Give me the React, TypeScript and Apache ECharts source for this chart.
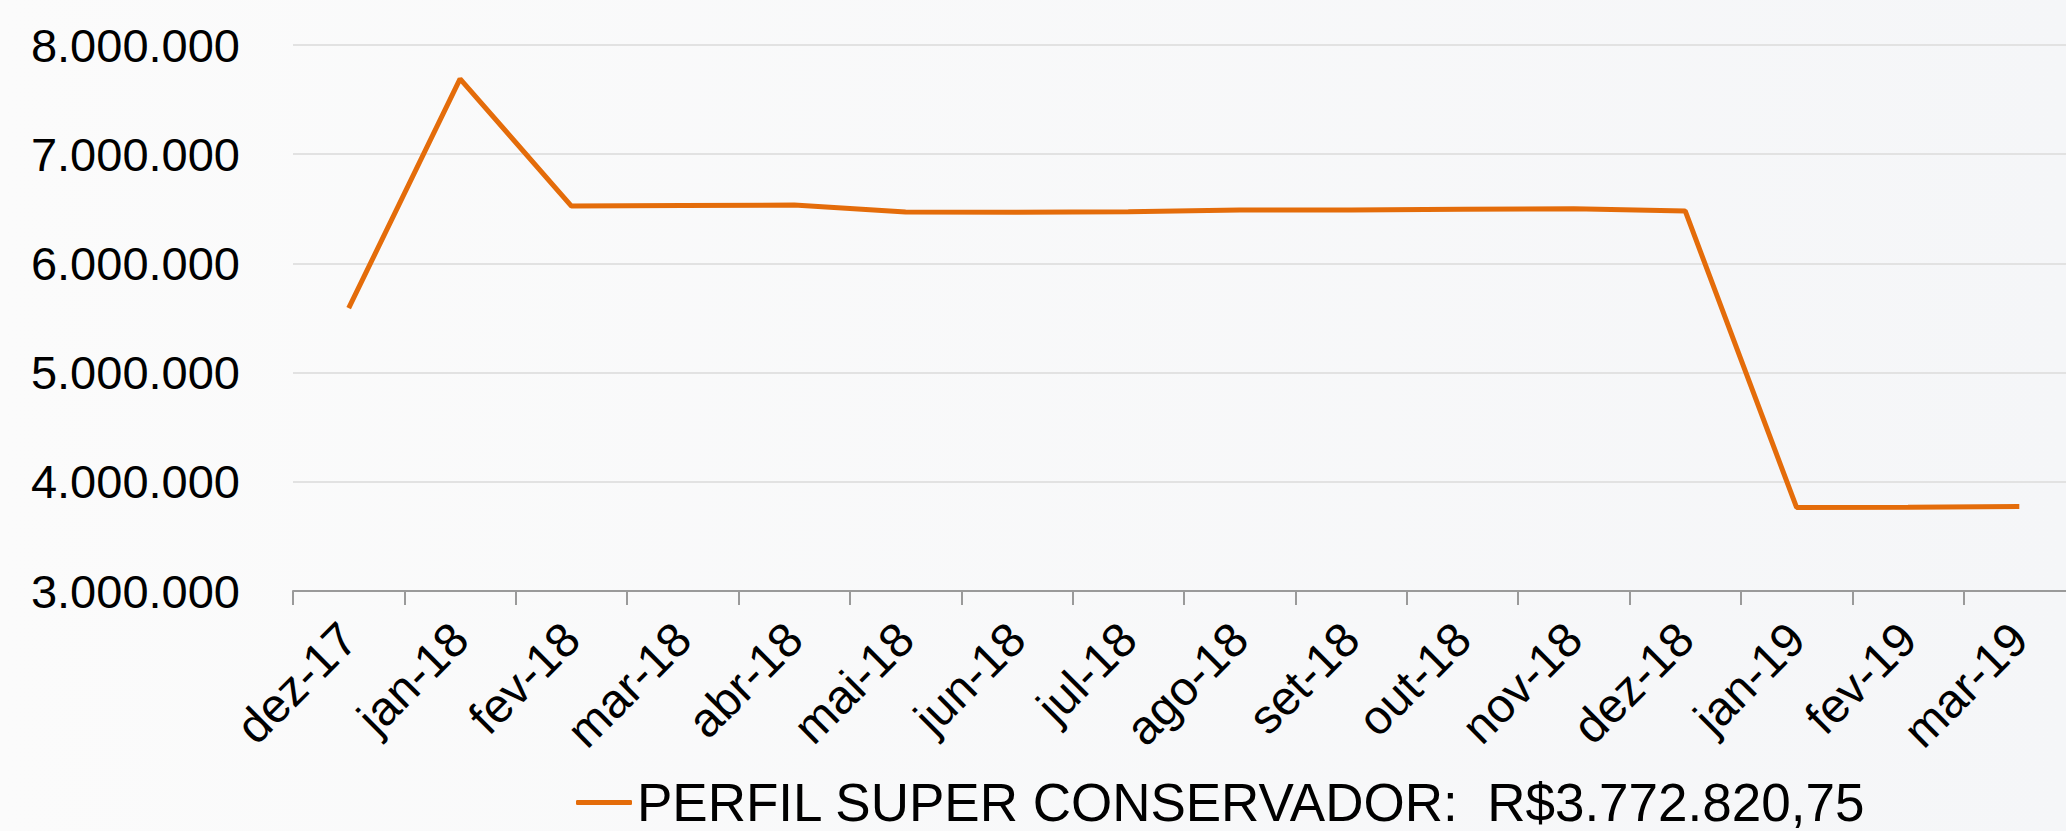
import React, { useEffect, useRef } from "react";
import * as echarts from "echarts";

const categories = [
  "dez-17", "jan-18", "fev-18", "mar-18", "abr-18", "mai-18", "jun-18", "jul-18",
  "ago-18", "set-18", "out-18", "nov-18", "dez-18", "jan-19", "fev-19", "mar-19",
];
const seriesName = "PERFIL SUPER CONSERVADOR:  R$3.772.820,75";
const values = [
  5590000, 7690000, 6525000, 6530000, 6535000, 6470000, 6468000, 6474000,
  6490000, 6490000, 6495000, 6500000, 6480000, 3765000, 3768000, 3772821,
];
const yMin = 3000000;
const yMax = 8000000;
const yInterval = 1000000;

const fmt = (v: number) => String(Math.round(v)).replace(/\B(?=(\d{3})+(?!\d))/g, ".");

export default function App() {
  const ref = useRef<HTMLDivElement>(null);
  useEffect(() => {
    if (!ref.current) return;
    const chart = echarts.init(ref.current, null, { renderer: "svg" });
    const font = "'Liberation Sans', Arial, sans-serif";
    chart.setOption({
      animation: false,
      backgroundColor: new echarts.graphic.LinearGradient(0, 0, 1, 0, [
        { offset: 0, color: "#FBFBFB" },
        { offset: 1, color: "#F5F6F8" },
      ]),
      grid: {
        left: 293,
        top: 45,
        width: 1782,
        height: 546,
        containLabel: false,
        outerBoundsMode: "none",
      },
      legend: {
        left: 576,
        top: 776,
        padding: 0,
        icon: "roundRect",
        itemWidth: 56,
        itemHeight: 5,
        textStyle: { fontFamily: font, fontSize: 53, lineHeight: 50, color: "#000" },
        data: [seriesName],
      },
      xAxis: {
        type: "category",
        data: categories,
        boundaryGap: true,
        axisLine: { lineStyle: { color: "#9A9A9A", width: 2 } },
        axisTick: { show: true, length: 14, lineStyle: { color: "#9A9A9A", width: 2 } },
        axisLabel: {
          rotate: 45,
          margin: 40,
          interval: 0,
          fontFamily: font,
          fontSize: 48,
          color: "#000",
        },
      },
      yAxis: {
        type: "value",
        min: yMin,
        max: yMax,
        interval: yInterval,
        axisLine: { show: false },
        axisTick: { show: false },
        splitLine: { lineStyle: { color: "#E2E2E2", width: 2 } },
        axisLabel: {
          margin: 53,
          fontFamily: font,
          fontSize: 47,
          color: "#000",
          formatter: (v: number) => fmt(v),
        },
      },
      series: [
        {
          name: seriesName,
          type: "line",
          data: values,
          symbol: "none",
          itemStyle: { color: "#E46C0A" },
          lineStyle: { color: "#E46C0A", width: 5 },
        },
      ],
    });
    return () => chart.dispose();
  }, []);
  return (
    <div
      ref={ref}
      style={{ position: "fixed", left: 0, top: 0, width: 2066, height: 831 }}
    />
  );
}
